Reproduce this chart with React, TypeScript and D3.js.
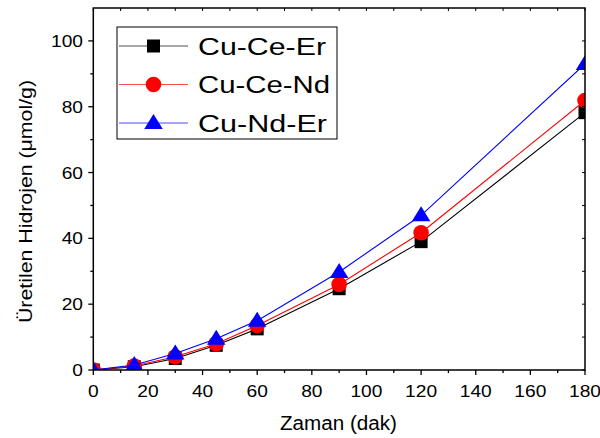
import React from "react";
import * as d3 from "d3";

const times = [0, 15, 30, 45, 60, 90, 120, 180];
const cuCeEr = [0, 1, 3.5, 7.5, 12.5, 24.7, 39, 78.2];
const cuCeNd = [0, 1.2, 4, 8, 13.5, 26, 41.7, 81.9];
const cuNdEr = [0, 1.5, 5, 9.5, 15, 29.8, 47, 93];
const xTicks = [0, 20, 40, 60, 80, 100, 120, 140, 160, 180];
const yTicks = [0, 20, 40, 60, 80, 100];
const seriesNames = ["Cu-Ce-Er", "Cu-Ce-Nd", "Cu-Nd-Er"];
const xTitle = "Zaman (dak)";
const yTitle = "Üretilen Hidrojen (μmol/g)";

const colors = ["#000000", "#ff0000", "#0000ff"];
const legendLens = [128, 132, 129];
const FONT = "'Liberation Sans', Arial, sans-serif";

function Marker({ kind, cx, cy, color }: { kind: number; cx: number; cy: number; color: string }) {
  if (kind === 0) return <rect x={cx - 6.5} y={cy - 6.5} width={13} height={13} fill={color} />;
  if (kind === 1) return <circle cx={cx} cy={cy} r={7.8} fill={color} />;
  const w = 18.5, h = 15;
  return <path d={`M${cx},${cy - h * 0.6}L${cx + w / 2},${cy + h * 0.4}L${cx - w / 2},${cy + h * 0.4}Z`} fill={color} />;
}

export default function App() {
  const L = 93.3, R = 585, T = 8, B = 370;
  const x = d3.scaleLinear().domain([0, 180]).range([L, R]);
  const y = d3.scaleLinear().domain([0, 110]).range([B, T]);
  const all = [cuCeEr, cuCeNd, cuNdEr];
  const line = d3.line<number>().x((_, i) => x(times[i])).y((d) => y(d));
  const xMinor = d3.range(10, 180, 20);
  const yMinor = d3.range(10, 110, 20);

  return (
    <svg width={600} height={438} style={{ position: "absolute", left: 0, top: 0, background: "#fff" }} fontFamily={FONT}>
      <defs>
        <clipPath id="plotclip">
          <rect x={L} y={T} width={R - L} height={B - T} />
        </clipPath>
      </defs>
      <g clipPath="url(#plotclip)">
        {all.map((s, k) => (
          <g key={k}>
            <path d={line(s) || ""} fill="none" stroke={colors[k]} strokeWidth={1.1} />
            {s.map((v, i) => (
              <Marker key={i} kind={k} cx={x(times[i])} cy={y(v)} color={colors[k]} />
            ))}
          </g>
        ))}
      </g>
      {/* frame */}
      <rect x={L} y={T} width={R - L} height={B - T} fill="none" stroke="#000" strokeWidth={1.5} />
      {/* bottom ticks */}
      {xTicks.map((t) => (
        <g key={"xt" + t}>
          <line x1={x(t)} x2={x(t)} y1={B} y2={B + 5} stroke="#000" strokeWidth={1.3} />
          <line x1={x(t)} x2={x(t)} y1={T} y2={T + 3} stroke="#000" strokeWidth={1} />
          <text transform={`translate(${x(t)},397) scale(1.13,1)`} textAnchor="middle" fontSize={17}>{t}</text>
        </g>
      ))}
      {xMinor.map((t) => (
        <g key={"xm" + t}>
          <line x1={x(t)} x2={x(t)} y1={B} y2={B + 3} stroke="#000" strokeWidth={1.3} />
          <line x1={x(t)} x2={x(t)} y1={T} y2={T + 3} stroke="#000" strokeWidth={1} />
        </g>
      ))}
      {yTicks.map((t) => (
        <g key={"yt" + t}>
          <line x1={L - 5} x2={L} y1={y(t)} y2={y(t)} stroke="#000" strokeWidth={1.3} />
          <line x1={R - 3} x2={R} y1={y(t)} y2={y(t)} stroke="#000" strokeWidth={1} />
          <text transform={`translate(83,${y(t) + 6}) scale(1.13,1)`} textAnchor="end" fontSize={17}>{t}</text>
        </g>
      ))}
      {yMinor.map((t) => (
        <g key={"ym" + t}>
          <line x1={L - 3} x2={L} y1={y(t)} y2={y(t)} stroke="#000" strokeWidth={1.3} />
          <line x1={R - 3} x2={R} y1={y(t)} y2={y(t)} stroke="#000" strokeWidth={1} />
        </g>
      ))}
      {/* axis titles */}
      <text x={338.5} y={430} textAnchor="middle" fontSize={20} textLength={117} lengthAdjust="spacingAndGlyphs">{xTitle}</text>
      <text transform="translate(31.7,201.5) rotate(-90)" textAnchor="middle" fontSize={18.5} textLength={243} lengthAdjust="spacingAndGlyphs">{yTitle}</text>
      {/* legend */}
      <rect x={117} y={27} width={220} height={112} fill="#fff" stroke="#000" strokeWidth={1} />
      {seriesNames.map((n, k) => {
        const cy = [46, 84.5, 123][k];
        return (
          <g key={n}>
            <line x1={119} x2={188} y1={cy} y2={cy} stroke={colors[k]} strokeWidth={1} strokeOpacity={0.7} />
            <Marker kind={k} cx={153.5} cy={cy} color={colors[k]} />
            <text x={198} y={cy + 8.5} fontSize={23} textLength={legendLens[k]} lengthAdjust="spacingAndGlyphs">{n}</text>
          </g>
        );
      })}
    </svg>
  );
}
